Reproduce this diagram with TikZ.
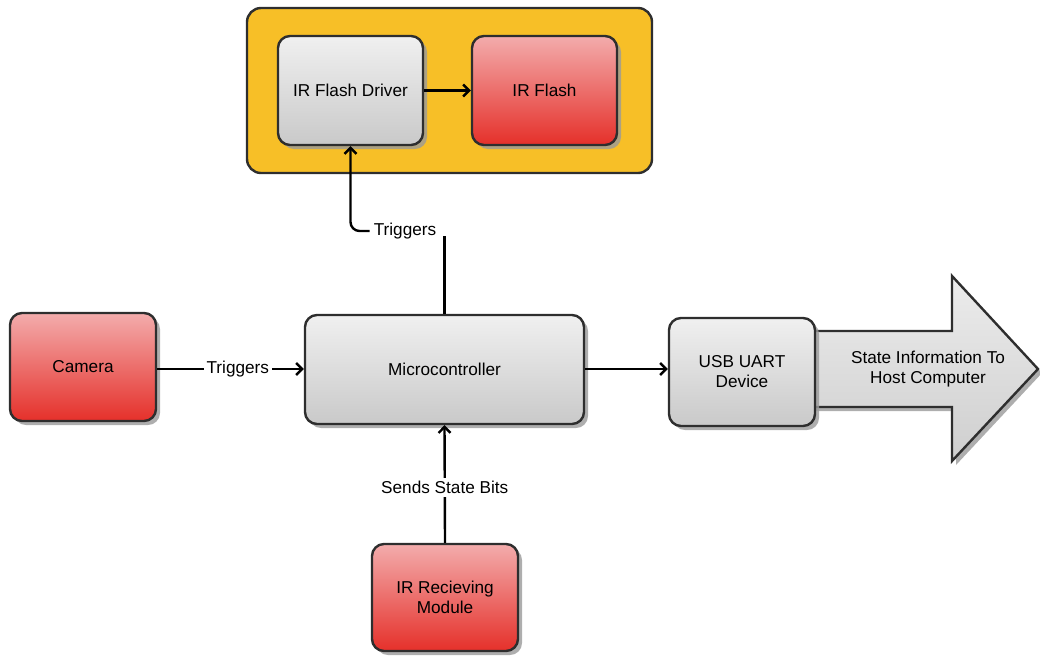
\documentclass[tikz,border=0pt]{standalone}
\usepackage{fontspec}
\setmainfont{Liberation Sans}
\usetikzlibrary{arrows.meta,shadows,calc}
\definecolor{bordc}{HTML}{2E2E2E}
\definecolor{redtop}{HTML}{F3ACAC}
\definecolor{redbot}{HTML}{E5302A}
\definecolor{graytop}{HTML}{F0F0F0}
\definecolor{graybot}{HTML}{C9C9C9}
\definecolor{orangebg}{HTML}{F7BF27}
\definecolor{shadowc}{HTML}{9A9A9A}
\tikzset{
  txt/.style={font=\fontsize{17.2}{20}\selectfont},
  box/.style={draw=bordc, line width=2.4pt, rounded corners=12pt, align=center, txt,
    drop shadow={shadow xshift=4pt, shadow yshift=-4pt, fill=shadowc, opacity=0.8}},
  redbox/.style={box, top color=redtop, bottom color=redbot},
  graybox/.style={box, top color=graytop, bottom color=graybot},
  lin/.style={draw=black, line width=2.4pt},
  arr/.style={lin, -{Straight Barb[length=6pt,width=12pt,line width=2.4pt]}},
  lbl/.style={fill=white, inner sep=3pt, txt}
}
\begin{document}
\begin{tikzpicture}[x=1pt,y=-1pt]
\useasboundingbox (0,0) rectangle (1040,657);
% container
\node[draw=bordc, line width=2.4pt, rounded corners=14pt, fill=orangebg,
  minimum width=405pt, minimum height=165pt, inner sep=0pt] (grp) at (449.5,90.5) {};
% boxes
\node[graybox, minimum width=145pt, minimum height=109pt] (drv) at (350.5,90.5) {IR Flash Driver};
\node[redbox, minimum width=145pt, minimum height=109pt] (flash) at (544.5,90.5) {IR Flash};
\node[redbox, minimum width=146pt, minimum height=108pt] (cam) at (83,367) {Camera};
\node[graybox, minimum width=279pt, minimum height=109pt] (mcu) at (444.5,369.5) {Microcontroller};
% big arrow
\coordinate (ba1) at (808,331);
\coordinate (ba2) at (952,331);
\coordinate (ba3) at (952,276);
\coordinate (ba4) at (1038,369);
\coordinate (ba5) at (952,461);
\coordinate (ba6) at (952,407);
\coordinate (ba7) at (808,407);
\fill[shadowc, opacity=0.8] ($(ba1)+(4,4)$) -- ($(ba2)+(4,4)$) -- ($(ba3)+(4,4)$) -- ($(ba4)+(4,4)$) -- ($(ba5)+(4,4)$) -- ($(ba6)+(4,4)$) -- ($(ba7)+(4,4)$) -- cycle;
\path[draw=bordc, line width=2.4pt, line join=miter, top color=graytop!90!graybot, bottom color=graybot!90!white]
  (ba1) -- (ba2) -- (ba3) -- (ba4) -- (ba5) -- (ba6) -- (ba7) -- cycle;
\node[align=center, txt] (bigtxt) at (928,369) {State Information To\\Host Computer};
\node[graybox, minimum width=146pt, minimum height=108pt] (usb) at (742,372) {USB UART\\Device};
\node[redbox, minimum width=146pt, minimum height=107pt] (irr) at (445,597.5) {IR Recieving\\Module};
% connectors
\draw[arr] (drv.east) -- (flash.west);
\node[txt, inner sep=0pt] (t1) at (405,231) {Triggers};
\draw[lin] (mcu.north) -- ++(0,-78);
\draw[arr, rounded corners=9pt] ($(t1.west)+(-4,0)$) -| (drv.south);
\draw[arr] (cam.east |- 0,369) -- node[lbl, pos=0.55] (t2) {Triggers} (mcu.west |- 0,369);
\draw[arr] (mcu.east |- 0,369) -- (usb.west |- 0,369);
\draw[arr] (irr.north) -- node[lbl, pos=0.47] (t3) {Sends State Bits} (mcu.south);
\end{tikzpicture}
\end{document}
